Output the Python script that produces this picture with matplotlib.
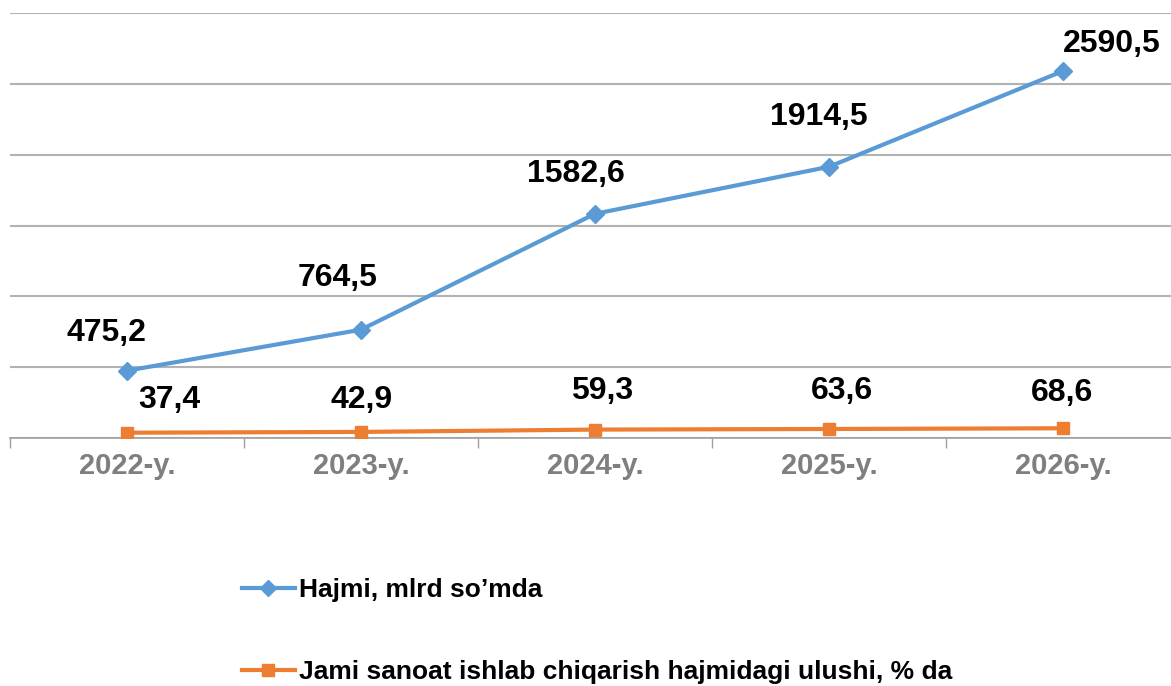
import matplotlib
matplotlib.use("Agg")
import matplotlib.pyplot as plt

years = ["2022-y.", "2023-y.", "2024-y.", "2025-y.", "2026-y."]
hajmi = [475.2, 764.5, 1582.6, 1914.5, 2590.5]
ulushi = [37.4, 42.9, 59.3, 63.6, 68.6]
name_hajmi = "Hajmi, mlrd so\u2019mda"
name_ulushi = "Jami sanoat ishlab chiqarish hajmidagi ulushi, % da"

plt.rcParams['font.family'] = ['Liberation Sans', 'DejaVu Sans']
plt.rcParams['font.weight'] = 'bold'

fig = plt.figure(figsize=(11.71, 6.86), dpi=100)
ax = fig.add_axes([10 / 1171, 1 - 438 / 686, 1170 / 1171, 425 / 686])

x = list(range(len(years)))
blue = "#5b9bd5"
orange = "#ed7d31"
ax.plot(x, hajmi, color=blue, lw=3, marker='D', ms=9, label=name_hajmi, zorder=3)
ax.plot(x, ulushi, color=orange, lw=3, marker='s', ms=9, label=name_ulushi, zorder=3)

ax.set_xlim(-0.5, len(years) - 0.5)
ax.set_ylim(0, 3000)
ax.set_yticks(range(0, 3001, 500))
ax.yaxis.grid(True, color="#b2b2b2", lw=1.5)
ax.set_axisbelow(True)
ax.tick_params(axis='y', length=0, labelleft=False)

for s in ["left", "right", "top"]:
    ax.spines[s].set_visible(False)
ax.spines["bottom"].set_color("#a0a0a0")
ax.spines["bottom"].set_linewidth(1.2)

ax.set_xticks(x)
ax.set_xticklabels(years, fontsize=21, color="#7f7f7f", fontweight='bold')
ax.tick_params(axis='x', which='major', length=0, pad=10)
ax.set_xticks([i - 0.5 for i in range(len(years) + 1)], minor=True)
ax.tick_params(axis='x', which='minor', length=7, color="#a0a0a0", width=1)

# label offsets in pixels (dx, dy to baseline)
off_h = [(-21, 30), (-23, 44), (-19, 32), (-10, 42), (49, 19)]
off_u = [(42, 25), (1, 24), (7, 31), (13, 30), (-1, 27)]

def fmt(v):
    return f"{v:.1f}".replace(".", ",")

for i, v in enumerate(hajmi):
    ax.annotate(fmt(v), (i, v), xytext=off_h[i], textcoords='offset pixels',
                ha='center', va='baseline', fontsize=23, fontweight='bold')
for i, v in enumerate(ulushi):
    ax.annotate(fmt(v), (i, v), xytext=off_u[i], textcoords='offset pixels',
                ha='center', va='baseline', fontsize=23, fontweight='bold')

leg = fig.legend(loc='upper left', bbox_to_anchor=(242 / 1171, 1 - 578 / 686),
                 frameon=False, borderpad=0, borderaxespad=0,
                 handlelength=2.0, handletextpad=0.15, labelspacing=2.2,
                 prop={'weight': 'bold', 'size': 19})
for h in leg.legend_handles:
    h.set_markersize(8)

fig.savefig("out.png", dpi=100)
